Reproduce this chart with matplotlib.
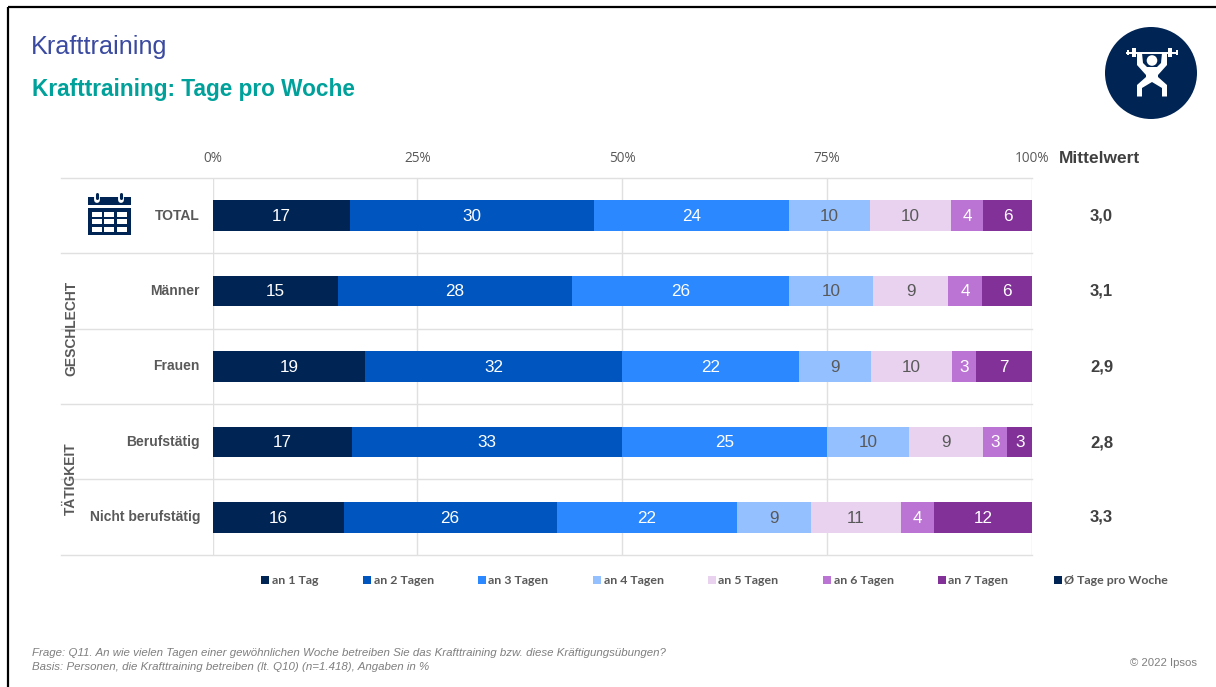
import numpy as np
import matplotlib
matplotlib.use("Agg")
import matplotlib.pyplot as plt
from matplotlib.patches import Rectangle, Circle, Polygon

W, H = 1216, 687

# survey shares per group (rows) and answer (columns)
groups = ["TOTAL", "Männer", "Frauen", "Berufstätig", "Nicht berufstätig"]
days = ["an 1 Tag", "an 2 Tagen", "an 3 Tagen", "an 4 Tagen", "an 5 Tagen", "an 6 Tagen", "an 7 Tagen"]
tag1 = [17, 15, 19, 17, 16]
tag2 = [30, 28, 32, 33, 26]
tag3 = [24, 26, 22, 25, 22]
tag4 = [10, 10, 9, 10, 9]
tag5 = [10, 9, 10, 9, 11]
tag6 = [4, 4, 3, 3, 4]
tag7 = [6, 6, 7, 3, 12]
means = ["3,0", "3,1", "2,9", "2,8", "3,3"]
ticks = [0, 25, 50, 75, 100]
tick_labels = ["0%", "25%", "50%", "75%", "100%"]

colors = ["#002454", "#0055BF", "#2B88FF", "#94C0FF", "#E8D2EF", "#BB74D3", "#823198"]
label_colors = ["white", "white", "white", "#595959", "#595959", "white", "white"]
NAVY = "#002454"
GRID = "#E0E0E0"
TEXT = "#595959"
ARIAL = "Liberation Sans"

fig = plt.figure(figsize=(W / 100, H / 100), dpi=100, facecolor="white")

# overlay in pixel coordinates for the slide furniture
bg = fig.add_axes([0, 0, 1, 1])
bg.set_xlim(0, W)
bg.set_ylim(H, 0)
bg.axis("off")

# slide frame: top and left edge
bg.plot([8, W], [7, 7], color="black", lw=1.6, solid_capstyle="butt")
bg.plot([8, 8], [7, H], color="black", lw=1.6, solid_capstyle="butt")

bg.text(31, 47, "Krafttraining", family=ARIAL, fontsize=18.2, color="#3A4AA0", va="center")
bg.text(32, 89.5, "Krafttraining: Tage pro Woche", family=ARIAL, fontsize=16.3, weight="bold",
        color="#00A19A", va="center")

# row separators, reaching left past the group labels
for y in [178, 253, 328.5, 404, 479, 555]:
    bg.plot([61, 1032], [y, y], color=GRID, lw=1.0, zorder=1)

# stacked bars, each row scaled to 100 %
ax = fig.add_axes([212.5 / W, 1 - 555 / H, (1032 - 212.5) / W, (555 - 178) / H])
ax.patch.set_alpha(0)
table = np.array([tag1, tag2, tag3, tag4, tag5, tag6, tag7], dtype=float)
shares = table / table.sum(axis=0) * 100
rows = np.arange(len(groups))
left = np.zeros(len(groups))
for j in range(len(days)):
    ax.barh(rows, shares[j], left=left, height=0.405, color=colors[j], linewidth=0, zorder=3)
    for i in rows:
        ax.text(left[i] + shares[j][i] / 2, i + 0.01, str(int(table[j][i])), ha="center", va="center",
                family=ARIAL, fontsize=12.3, color=label_colors[j], zorder=4)
    left += shares[j]

ax.set_xlim(0, 100)
ax.set_ylim(len(groups) - 0.5, -0.5)
ax.set_yticks([])
ax.set_xticks(ticks)
ax.set_xticklabels(tick_labels, family="Open Sans", fontsize=9.8, color=TEXT)
ax.xaxis.tick_top()
ax.tick_params(axis="x", length=0, pad=9)
ax.grid(axis="x", color=GRID, lw=1.0, zorder=0)
for s in ax.spines.values():
    s.set_visible(False)

# row labels and mean column
row_y = [215.5, 291, 366.5, 442, 517]
for name, y, m in zip(groups, row_y, means):
    bg.text(200, y, name, ha="right", va="center", family=ARIAL, fontsize=10, weight="bold", color=TEXT)
    bg.text(1101.5, y + 0.5, m, ha="center", va="center", family=ARIAL, fontsize=12, weight="bold", color="#404040")
bg.text(1099.5, 158.5, "Mittelwert", ha="center", va="center", family=ARIAL, fontsize=12.5, weight="bold",
        color="#404040")
bg.text(71, 328, "GESCHLECHT", rotation=90, ha="center", va="center", family=ARIAL, fontsize=10,
        weight="bold", color=TEXT)
bg.text(71, 479, "TÄTIGKEIT", rotation=90, ha="center", va="center", family=ARIAL, fontsize=10,
        weight="bold", color=TEXT)

# legend row
legend_names = days + ["Ø Tage pro Woche"]
legend_colors = colors + [NAVY]
legend_x = [261, 363, 478, 593, 708, 823, 938, 1054]
for name, c, x in zip(legend_names, legend_colors, legend_x):
    bg.add_patch(Rectangle((x, 575.5), 8, 8, color=c, lw=0))
    bg.text(x + 10.5, 580, name, va="center", family="Lato", fontsize=8.9, weight="bold", color=TEXT)

# footnotes
bg.text(32, 653.5, "Frage: Q11. An wie vielen Tagen einer gewöhnlichen Woche betreiben Sie das Krafttraining bzw. diese Kräftigungsübungen?",
        va="center", family=ARIAL, fontsize=8.25, style="italic", color="#7F7F7F")
bg.text(32, 667, "Basis: Personen, die Krafttraining betreiben (lt. Q10) (n=1.418), Angaben in %",
        va="center", family=ARIAL, fontsize=8.25, style="italic", color="#7F7F7F")
bg.text(1197, 663, "© 2022 Ipsos", ha="right", va="center", family=ARIAL, fontsize=8.2, color="#7F7F7F")

# calendar icon
bg.add_patch(Rectangle((88, 197), 43, 7.5, color=NAVY, lw=0))
bg.add_patch(Rectangle((88, 207.5), 43, 27.5, color=NAVY, lw=0))
for x in [97, 121]:
    bg.plot([x, x], [190, 199.5], color="white", lw=4.2, solid_capstyle="round")
    bg.plot([x, x], [193.5, 197.5], color=NAVY, lw=2.2, solid_capstyle="round")
for cx in [92, 104, 117]:
    for cy in [211.5, 219, 226.5]:
        bg.add_patch(Rectangle((cx, cy), 10, 5, color="white", lw=0))

# weightlifter icon
bg.add_patch(Circle((1151, 73), 46, color=NAVY, lw=0))
bg.plot([1126, 1178], [52.7, 52.7], color="white", lw=1.4, solid_capstyle="butt")
for x, hw, hh in [(1127.5, 1, 2.5), (1134, 2, 4.7), (1170, 2, 4.7), (1176.5, 1, 2.5)]:
    bg.add_patch(Rectangle((x - hw, 52.7 - hh), 2 * hw, 2 * hh, color="white", lw=0))
bg.add_patch(Circle((1152, 60.5), 5.3, color="white", lw=0))
bg.add_patch(Polygon([(1137, 53), (1142, 53), (1143, 63), (1147, 67), (1157, 67), (1161, 63),
                      (1162, 53), (1167, 53), (1167, 65), (1158, 75), (1158, 77), (1167, 85),
                      (1167, 96.5), (1162, 96.5), (1162, 88), (1152, 82), (1142, 88), (1142, 96.5),
                      (1137, 96.5), (1137, 85), (1146, 77), (1146, 75), (1137, 65)],
                     color="white", lw=0))

fig.savefig("out.png", dpi=100)
